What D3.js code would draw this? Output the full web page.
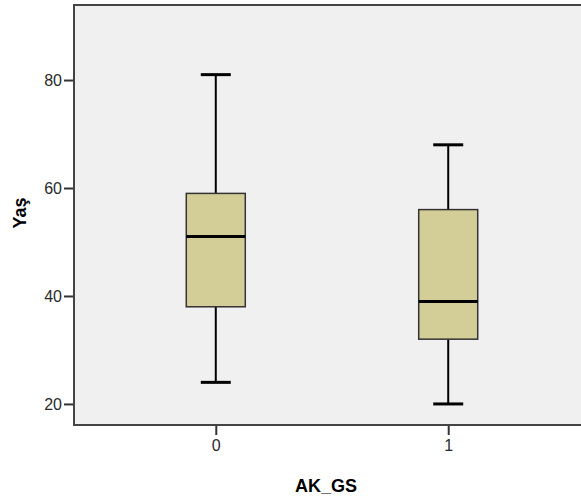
<!DOCTYPE html>
<html>
<head>
<meta charset="utf-8">
<script src="https://cdn.jsdelivr.net/npm/d3@7"></script>
<style>
  body { margin: 0; background: #fff; }
  svg { display: block; }
  text { font-family: "Liberation Sans", Arial, sans-serif; }
</style>
</head>
<body>
<svg id="chart"></svg>
<script>
// Data
var groups = ["0", "1"];
var whiskerLow = [24, 20];
var q1 = [38, 32];
var medians = [51, 39];
var q3 = [59, 56];
var whiskerHigh = [81, 68];
var yTicks = [20, 40, 60, 80];

var width = 581, height = 502;
// plot area edges (note: "top" is reserved on window, so use plot* names)
var plotLeft = 74, plotTop = 5, plotRight = 590, plotBottom = 425;

var svg = d3.select("#chart")
  .attr("width", width)
  .attr("height", height);

// scales
var x = d3.scalePoint()
  .domain(groups)
  .range([plotLeft, plotRight])
  .padding(0.61);

var y = d3.scaleLinear()
  .domain([16.1, 93.9])
  .range([plotBottom, plotTop]);

// plot background
svg.append("rect")
  .attr("x", plotLeft)
  .attr("y", plotTop)
  .attr("width", plotRight - plotLeft)
  .attr("height", plotBottom - plotTop)
  .attr("fill", "#f0f0f0");

// axes
var yAxis = svg.append("g")
  .attr("transform", "translate(" + plotLeft + ",0)")
  .call(d3.axisLeft(y).tickValues(yTicks).tickSize(10).tickPadding(2).tickFormat(d3.format("d")));

var xAxis = svg.append("g")
  .attr("transform", "translate(0," + plotBottom + ")")
  .call(d3.axisBottom(x).tickSize(10).tickPadding(5));

[yAxis, xAxis].forEach(function (a) {
  a.select(".domain").remove();
  a.selectAll(".tick line").attr("stroke", "#333").attr("stroke-width", 2);
  a.selectAll(".tick text")
    .attr("fill", "#2a2a2a")
    .style("font-size", "16px")
    .style("font-family", "'Liberation Sans', Arial, sans-serif");
});

// frame (left, top, bottom)
svg.append("path")
  .attr("d", "M" + plotRight + "," + plotTop + "H" + plotLeft + "V" + plotBottom + "H" + plotRight)
  .attr("fill", "none")
  .attr("stroke", "#444")
  .attr("stroke-width", 2);

var boxW = 59, capW = 30;

var bx = svg.selectAll(".box")
  .data(groups)
  .enter().append("g")
  .attr("class", "box");

// whiskers
bx.append("line")
  .attr("x1", function (d) { return x(d); })
  .attr("x2", function (d) { return x(d); })
  .attr("y1", function (d, i) { return y(whiskerHigh[i]); })
  .attr("y2", function (d, i) { return y(q3[i]); })
  .attr("stroke", "#000").attr("stroke-width", 2);

bx.append("line")
  .attr("x1", function (d) { return x(d); })
  .attr("x2", function (d) { return x(d); })
  .attr("y1", function (d, i) { return y(q1[i]); })
  .attr("y2", function (d, i) { return y(whiskerLow[i]); })
  .attr("stroke", "#000").attr("stroke-width", 2);

// caps
[whiskerHigh, whiskerLow].forEach(function (arr) {
  bx.append("line")
    .attr("x1", function (d) { return x(d) - capW / 2; })
    .attr("x2", function (d) { return x(d) + capW / 2; })
    .attr("y1", function (d, i) { return y(arr[i]); })
    .attr("y2", function (d, i) { return y(arr[i]); })
    .attr("stroke", "#000").attr("stroke-width", 3);
});

// boxes
bx.append("rect")
  .attr("x", function (d) { return x(d) - boxW / 2; })
  .attr("y", function (d, i) { return y(q3[i]); })
  .attr("width", boxW)
  .attr("height", function (d, i) { return y(q1[i]) - y(q3[i]); })
  .attr("fill", "#d3ce97")
  .attr("stroke", "#333")
  .attr("stroke-width", 1.5);

// medians
bx.append("line")
  .attr("x1", function (d) { return x(d) - boxW / 2; })
  .attr("x2", function (d) { return x(d) + boxW / 2; })
  .attr("y1", function (d, i) { return y(medians[i]); })
  .attr("y2", function (d, i) { return y(medians[i]); })
  .attr("stroke", "#000").attr("stroke-width", 3);

// axis titles
svg.append("text")
  .attr("x", 326)
  .attr("y", 492)
  .attr("text-anchor", "middle")
  .style("font-size", "18px")
  .style("font-weight", "bold")
  .text("AK_GS");

svg.append("text")
  .attr("transform", "translate(26,213) rotate(-90)")
  .attr("text-anchor", "middle")
  .style("font-size", "18px")
  .style("font-weight", "bold")
  .text("Yaş");
</script>
</body>
</html>
